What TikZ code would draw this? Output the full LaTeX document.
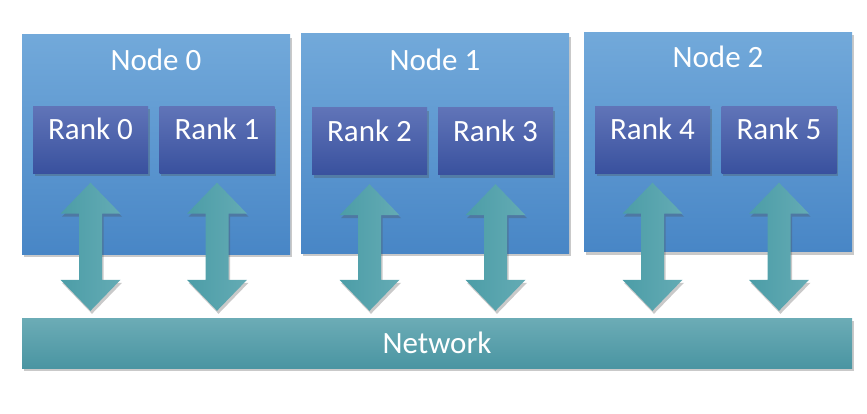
\documentclass[tikz,border=0pt]{standalone}
\usepackage{fontspec}
\setmainfont{Carlito}
\usetikzlibrary{calc, shadows}

\definecolor{hostTop}{RGB}{114,169,218}
\definecolor{hostBot}{RGB}{72,134,198}
\definecolor{rankTop}{RGB}{96,116,184}
\definecolor{rankBot}{RGB}{57,81,158}
\definecolor{linkDark}{RGB}{76,157,167}
\definecolor{linkLight}{RGB}{100,171,180}
\definecolor{netTop}{RGB}{108,172,182}
\definecolor{netBot}{RGB}{74,149,162}

\tikzset{
  soft shadow/.style={drop shadow={shadow xshift=1.5pt, shadow yshift=-3pt, opacity=0.3, fill=black!70}},
  host/.style={soft shadow, top color=hostTop, bottom color=hostBot, minimum width=268pt, minimum height=219pt},
  rank/.style={soft shadow, top color=rankTop, bottom color=rankBot, minimum width=115pt, minimum height=67pt,
    text=white, font=\fontsize{31}{36}\selectfont, text height=8pt, text depth=8pt},
  title/.style={text=white, font=\fontsize{31}{36}\selectfont, anchor=base},
  network/.style={soft shadow, top color=netTop, bottom color=netBot, minimum width=830pt, minimum height=50pt,
    text=white, font=\fontsize{31}{36}\selectfont},
  link/.style={soft shadow, left color=linkDark, right color=linkLight}
}

% double block arrow from a rank down to the network
\newcommand{\linkarrow}[1]{%
  \coordinate (#1-up) at ($(#1.south)+(0,9)$);
  \coordinate (#1-dn) at ($(#1.south |- net.north)+(0,-7)$);
  \path[link] (#1-up) -- ++(30,31) -- ++(-18.5,0) -- ($(#1-dn)+(11.5,-31)$) -- ++(18.5,0)
    -- (#1-dn) -- ++(-30,-31) -- ++(18.5,0) -- ($(#1-up)+(-11.5,31)$) -- ++(-18.5,0) -- cycle;
}

\begin{document}
\begin{tikzpicture}[x=1pt, y=-1pt]
\useasboundingbox (0,0) rectangle (867,414);

% hosts
\node[host] (node0) at (156,144.5) {};
\node[host] (node1) at (435,143.5) {};
\node[host] (node2) at (718,142) {};

\node[title] (title0) at (156,71) {Node 0};
\node[title] (title1) at (435,71) {Node 1};
\node[title] (title2) at (718,68) {Node 2};

% ranks
\node[rank] (rank0) at (90.5,140) {Rank 0};
\node[rank] (rank1) at (217,140) {Rank 1};
\node[rank] (rank2) at (369.5,141.5) {Rank 2};
\node[rank] (rank3) at (495.5,141.5) {Rank 3};
\node[rank] (rank4) at (652.5,140) {Rank 4};
\node[rank] (rank5) at (779,140) {Rank 5};

% network
\node[network] (net) at (437,343) {Network};

\foreach \r in {0,...,5} {\linkarrow{rank\r}}

\end{tikzpicture}
\end{document}
